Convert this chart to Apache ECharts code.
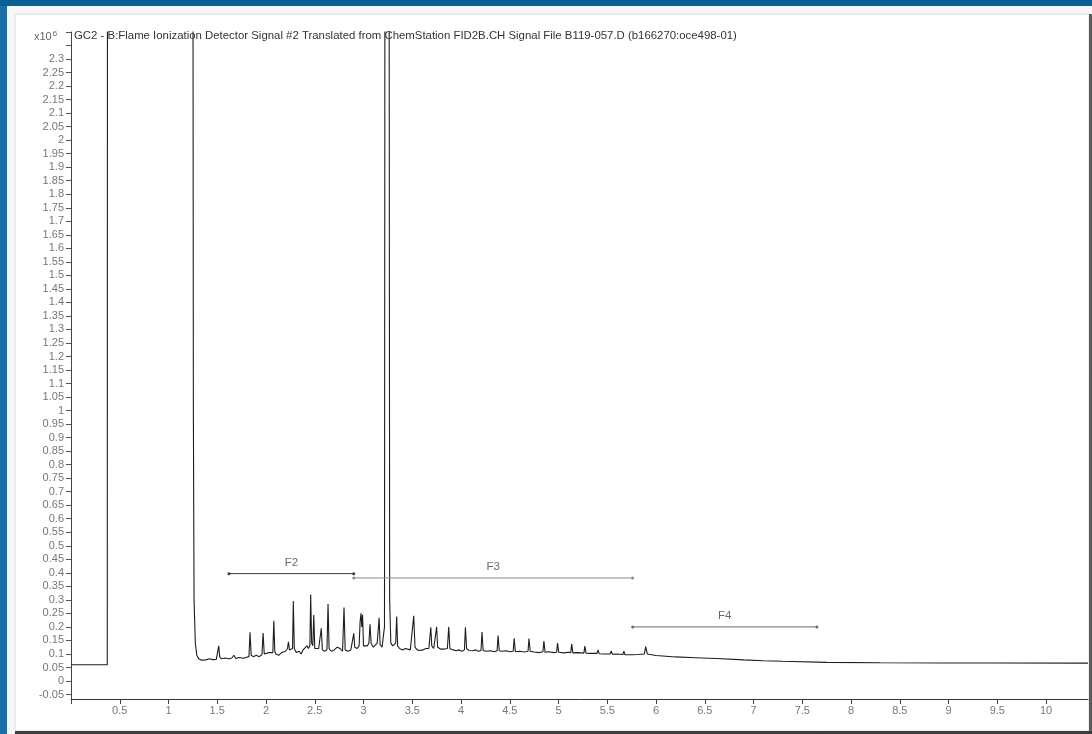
<!DOCTYPE html>
<html><head><meta charset="utf-8">
<script src="https://cdn.jsdelivr.net/npm/echarts@6/dist/echarts.min.js"></script>
<style>html,body{margin:0;padding:0;background:#0b5f95;}#c{width:1092px;height:734px;}</style>
</head><body><div id="c"></div><script>
const chartTitle = "GC2 - B:Flame Ionization Detector Signal #2 Translated from ChemStation FID2B.CH Signal File B119-057.D (b166270:oce498-01)";
const yScaleLabel = "x10";
const yScaleExp = "6";

// retention time (min) and detector signal (x10^6); values above 2.4 are off-scale (clipped)
const retentionTime = [
 0, 0.372, 0.374, 1.25, 1.255, 1.262, 1.275, 1.29, 1.31, 1.34, 1.38, 1.42, 1.45, 1.49,
 1.505, 1.515, 1.525, 1.54, 1.58, 1.6, 1.62, 1.65, 1.67, 1.69, 1.72, 1.74, 1.77, 1.80,
 1.825, 1.836, 1.848, 1.87, 1.9, 1.93, 1.958, 1.97, 1.982, 2.0, 2.03, 2.05, 2.07, 2.08,
 2.09, 2.1, 2.13, 2.16, 2.2, 2.22, 2.23, 2.24, 2.26, 2.272, 2.28, 2.29, 2.31, 2.34, 2.36,
 2.38, 2.4, 2.42, 2.435, 2.45, 2.458, 2.468, 2.48, 2.49, 2.5, 2.52, 2.54, 2.556, 2.567,
 2.578, 2.6, 2.625, 2.636, 2.647, 2.67, 2.7, 2.73, 2.76, 2.785, 2.8, 2.812, 2.84, 2.87,
 2.89, 2.9, 2.91, 2.935, 2.955, 2.965, 2.974, 2.982, 2.99, 3.0, 3.02, 3.04, 3.055, 3.067,
 3.078, 3.1, 3.12, 3.14, 3.16, 3.17, 3.19, 3.205, 3.215, 3.22, 3.262, 3.268, 3.28, 3.3,
 3.33, 3.34, 3.35, 3.37, 3.4, 3.43, 3.45, 3.48, 3.5, 3.515, 3.528, 3.55, 3.58, 3.61, 3.64,
 3.67, 3.68, 3.69, 3.7, 3.72, 3.74, 3.75, 3.76, 3.79, 3.81, 3.83, 3.86, 3.874, 3.886,
 3.92, 3.95, 3.98, 4.01, 4.035, 4.045, 4.057, 4.08, 4.1, 4.12, 4.15, 4.18, 4.205, 4.215,
 4.227, 4.26, 4.3, 4.34, 4.37, 4.38, 4.392, 4.42, 4.46, 4.5, 4.535, 4.545, 4.557, 4.6,
 4.65, 4.687, 4.697, 4.709, 4.75, 4.8, 4.84, 4.85, 4.862, 4.9, 4.95, 4.98, 4.99, 5.002,
 5.05, 5.1, 5.125, 5.135, 5.147, 5.2, 5.26, 5.27, 5.282, 5.33, 5.395, 5.405, 5.417, 5.47,
 5.53, 5.54, 5.552, 5.6, 5.66, 5.67, 5.682, 5.75, 5.82, 5.88, 5.894, 5.91, 6.0, 6.2, 6.4,
 6.62, 6.9, 7.1, 7.3, 7.75, 8.3, 9.0, 9.46, 10.43
];
const signal = [
 0.060, 0.060, 3.0, 3.0, 1.0, 0.3, 0.14, 0.095, 0.082, 0.077, 0.078, 0.082, 0.079, 0.080,
 0.085, 0.13, 0.09, 0.082, 0.085, 0.09, 0.082, 0.085, 0.095, 0.083, 0.087, 0.082, 0.084, 0.088,
 0.09, 0.18, 0.095, 0.09, 0.095, 0.09, 0.097, 0.177, 0.10, 0.095, 0.105, 0.10, 0.105, 0.223,
 0.11, 0.10, 0.095, 0.105, 0.11, 0.12, 0.145, 0.115, 0.11, 0.12, 0.296, 0.12, 0.105, 0.11, 0.10,
 0.115, 0.11, 0.13, 0.12, 0.13, 0.32, 0.14, 0.13, 0.244, 0.12, 0.115, 0.12, 0.12, 0.195,
 0.115, 0.11, 0.115, 0.285, 0.12, 0.11, 0.115, 0.125, 0.12, 0.11, 0.272, 0.115, 0.11, 0.115,
 0.12, 0.176, 0.125, 0.12, 0.13, 0.22, 0.25, 0.20, 0.245, 0.13, 0.125, 0.13, 0.14, 0.21,
 0.14, 0.125, 0.13, 0.14, 0.234, 0.135, 0.125, 0.12, 0.20, 3.0, 3.0, 0.3, 0.14, 0.13,
 0.14, 0.238, 0.13, 0.12, 0.115, 0.12, 0.117, 0.115, 0.12, 0.241, 0.125, 0.115, 0.113, 0.115, 0.12,
 0.12, 0.125, 0.199, 0.13, 0.12, 0.125, 0.20, 0.125, 0.118, 0.125, 0.118, 0.12, 0.20, 0.12,
 0.115, 0.112, 0.115, 0.11, 0.115, 0.199, 0.12, 0.113, 0.12, 0.112, 0.115, 0.11, 0.113, 0.181,
 0.113, 0.11, 0.112, 0.108, 0.112, 0.168, 0.112, 0.11, 0.112, 0.108, 0.11, 0.158, 0.108, 0.11,
 0.107, 0.11, 0.157, 0.11, 0.107, 0.105, 0.108, 0.148, 0.106, 0.108, 0.105, 0.106, 0.14, 0.106,
 0.104, 0.106, 0.105, 0.137, 0.104, 0.105, 0.103, 0.129, 0.103, 0.102, 0.102, 0.115, 0.101, 0.10,
 0.10, 0.111, 0.099, 0.10, 0.098, 0.11, 0.097, 0.097, 0.098, 0.10, 0.127, 0.10, 0.094, 0.089, 0.086,
 0.083, 0.078, 0.075, 0.073, 0.069, 0.0675, 0.0665, 0.0665, 0.066
];

const fractionNames = ['F2', 'F3', 'F4'];
const fractionStart = [1.62, 2.90, 5.76];
const fractionEnd = [2.90, 5.76, 7.65];
const fractionLevel = [0.397, 0.381, 0.200];
const fractionColors = ['#3a3a3a', '#8a8a8a', '#6a6a6a'];

const xTickValues = [0,0.5,1,1.5,2,2.5,3,3.5,4,4.5,5,5.5,6,6.5,7,7.5,8,8.5,9,9.5,10];
const xLabelValues = xTickValues.slice(1);
const yTickValues = Array.from({length: 50}, (_, i) => +(-0.05 + 0.05 * i).toFixed(2));
const yLabelValues = yTickValues.filter(v => v <= 2.3);

const chart = echarts.init(document.getElementById('c'), null, {renderer: 'canvas'});
const font = 'Liberation Sans, Arial, sans-serif';

const series = [{
  type: 'line',
  data: retentionTime.map((t, i) => [t, signal[i]]),
  showSymbol: false,
  clip: true,
  lineStyle: {width: 1.1, color: '#1e1e1e'},
  z: 3,
  silent: true
}];
fractionNames.forEach((n, i) => {
  series.push({
    type: 'line',
    data: [[fractionStart[i], fractionLevel[i]], [fractionEnd[i], fractionLevel[i]]],
    symbol: 'circle', symbolSize: 3, showSymbol: true,
    lineStyle: {width: 1, color: fractionColors[i]},
    itemStyle: {color: fractionColors[i]},
    silent: true, z: 4
  });
});
series.push({
  type: 'scatter',
  symbolSize: 0,
  data: fractionNames.map((n, i) => ({name: n, value: [(fractionStart[i] + fractionEnd[i]) / 2, fractionLevel[i]]})),
  label: {show: true, position: 'top', distance: 5, formatter: '{b}', fontSize: 11.5, color: '#444', fontFamily: font},
  silent: true, z: 5
});

chart.setOption({
  animation: false,
  backgroundColor: 'transparent',
  textStyle: {fontFamily: font},
  graphic: {elements: [
    {type: 'rect', z: -10, shape: {x: 0, y: 0, width: 1092, height: 734}, style: {fill: '#0b5e94'}},
    {type: 'rect', z: -9, shape: {x: 0, y: 6, width: 7, height: 728}, style: {fill: '#1b6fa6'}},
    {type: 'rect', z: -8, shape: {x: 7, y: 6, width: 1085, height: 728}, style: {fill: '#f7f7f7'}},
    {type: 'rect', z: -7, shape: {x: 15, y: 14, width: 1074, height: 717}, style: {fill: '#ffffff', stroke: '#dcdcdc', lineWidth: 1}},
    {type: 'rect', z: -6, shape: {x: 1089, y: 14, width: 3, height: 720}, style: {fill: '#5a5a5a'}},
    {type: 'rect', z: -6, shape: {x: 15, y: 731, width: 1077, height: 3}, style: {fill: '#3c3c3c'}},
    {type: 'text', z: 10, x: 74, y: 30, style: {text: chartTitle, fill: '#333', font: '11.4px ' + font}},
    {type: 'text', z: 10, x: 34, y: 30, style: {
      text: '{a|' + yScaleLabel + '}{b|' + yScaleExp + '}',
      rich: {a: {fontSize: 11, fill: '#666', fontFamily: font}, b: {fontSize: 8, fill: '#666', fontFamily: font, verticalAlign: 'top', padding: [0, 0, 5, 1]}}
    }}
  ]},
  grid: {left: 71, right: 4, top: 32, bottom: 35, containLabel: false},
  xAxis: {
    type: 'value', min: 0, max: 10.43,
    axisLine: {onZero: false, lineStyle: {color: '#333', width: 1}},
    axisTick: {show: true, length: 5, lineStyle: {color: '#444'}, customValues: xTickValues},
    axisLabel: {customValues: xLabelValues, fontSize: 11, color: '#777', margin: 6, fontFamily: font,
      formatter: v => String(+v.toFixed(2))},
    splitLine: {show: false}
  },
  yAxis: {
    type: 'value', min: -0.0666, max: 2.4,
    axisLine: {show: true, lineStyle: {color: '#444', width: 1}},
    axisTick: {show: true, length: 5, lineStyle: {color: '#555'}, customValues: yTickValues},
    axisLabel: {customValues: yLabelValues, fontSize: 11, color: '#777', margin: 7, fontFamily: font,
      formatter: v => String(+v.toFixed(2))},
    splitLine: {show: false}
  },
  series: series
});
</script></body></html>
